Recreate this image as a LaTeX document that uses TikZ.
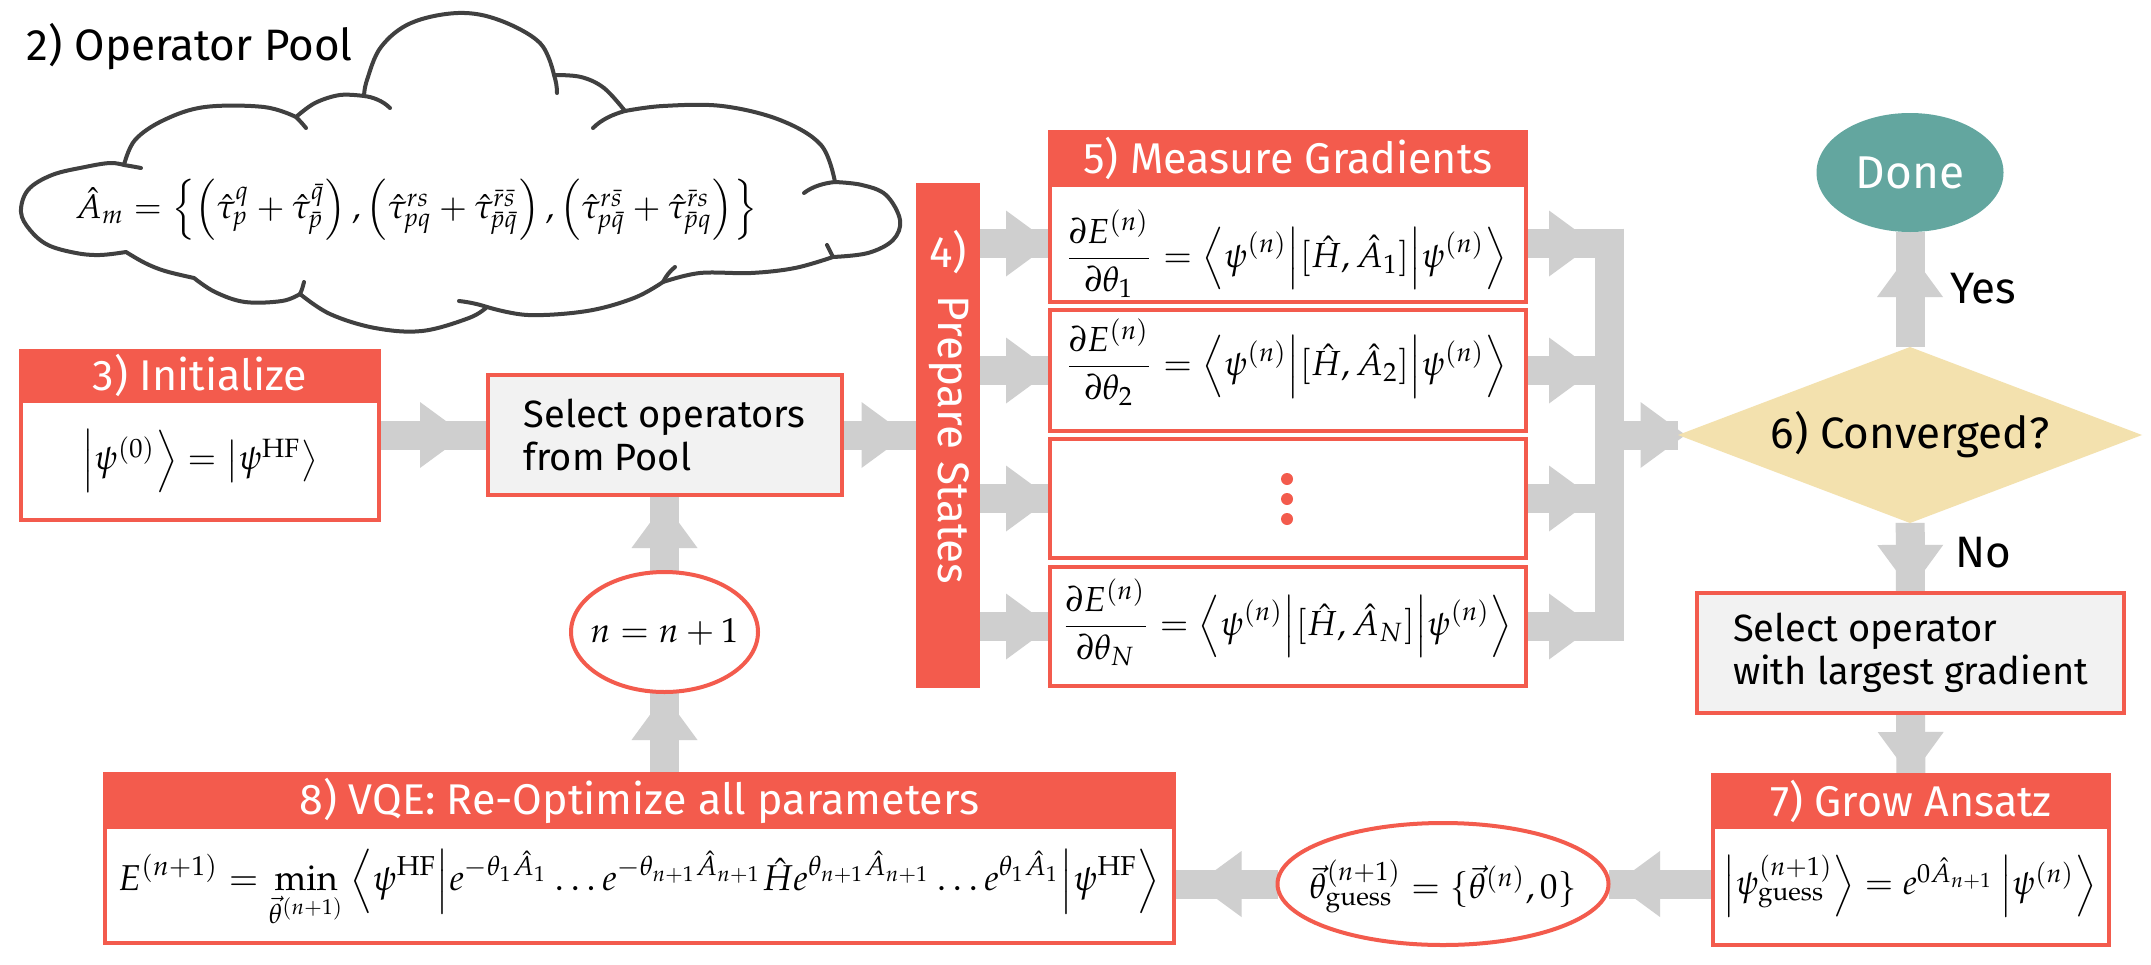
\documentclass[tikz,border=0pt]{standalone}
\usepackage{amsmath}
\usepackage{mathpazo}
\usepackage{graphicx}
\usepackage[no-math]{fontspec}
\setmainfont{Fira Sans}
\usetikzlibrary{shapes.geometric,calc,decorations.markings}
\pgfdeclarelayer{bg}
\pgfsetlayers{bg,main}
\definecolor{fred}{HTML}{F35B4D}
\definecolor{fgray}{HTML}{CFCFCF}
\definecolor{fboxc}{HTML}{F2F2F2}
\definecolor{fteal}{HTML}{63A69F}
\definecolor{fyel}{HTML}{F3E1AE}
\definecolor{fcloud}{HTML}{404040}
\newcommand\hfont{\fontsize{43}{48}\selectfont}
\newcommand\tfont{\fontsize{38}{43}\selectfont}
\tikzset{
  redbox/.style={draw=fred, line width=4pt, fill=white, inner sep=0pt},
  hdr/.style={draw=fred, line width=4pt, fill=fred, text=white, inner sep=0pt, font=\hfont},
  flow/.style={draw=fgray, line width=29pt},
  arrowat/.style={postaction={decorate}, decoration={markings, mark=at position #1 with {\fill[fgray] (0pt,33pt) -- (45pt,0pt) -- (0pt,-33pt) -- cycle;}}},
  cloudline/.style={draw=fcloud, line width=4pt, line join=round, line cap=round},
}
\begin{document}
\begin{tikzpicture}[x=1pt,y=-1pt, every node/.style={outer sep=0pt}]
\useasboundingbox (0,0) rectangle (2151,964);

% cloud
\draw[cloudline, fill=white] (126,252)
  -- plot[smooth, tension=0.6] coordinates {(126,252) (100,255) (76,253) (48,245) (30,230) (21,212) (28,190) (52,175) (85,167) (110,163) (124,165)}
  -- plot[smooth, tension=0.6] coordinates {(124,165) (135,140) (164,120) (205,107) (264,107) (296,117)}
  -- plot[smooth, tension=0.6] coordinates {(296,117) (315,103) (340,95) (364,96)}
  -- plot[smooth, tension=0.6] coordinates {(364,96) (367,80) (381,47) (411,23) (458,13) (499,20) (540,43) (554,75)}
  -- plot[smooth, tension=0.6] coordinates {(554,75) (581,77) (604,88) (625,111)}
  -- plot[smooth, tension=0.6] coordinates {(625,111) (663,106) (722,106) (780,120) (821,145) (835,182)}
  -- plot[smooth, tension=0.6] coordinates {(835,182) (862,185) (886,195) (900,220) (893,240) (868,253) (833,257)}
  -- plot[smooth, tension=0.6] coordinates {(833,257) (795,268) (751,273) (700,273) (663,282)}
  -- plot[smooth, tension=0.6] coordinates {(663,282) (634,298) (587,311) (528,315) (487,307)}
  -- plot[smooth, tension=0.6] coordinates {(487,307) (469,318) (422,331) (375,328) (330,314) (300,294)}
  -- plot[smooth, tension=0.6] coordinates {(300,294) (282,301) (245,302) (215,292) (194,278)}
  -- plot[smooth, tension=0.6] coordinates {(194,278) (165,271) (145,263) (126,252)}
  -- cycle;
% cloud hooks
\draw[cloudline] (124,165) .. controls (130,166) and (136,167) .. (141,168);
\draw[cloudline] (296,117) .. controls (299,120) and (302,123) .. (306,128);
\draw[cloudline] (364,96) .. controls (373,97) and (383,101) .. (390,108);
\draw[cloudline] (554,75) .. controls (556,81) and (557,87) .. (557,93);
\draw[cloudline] (625,111) .. controls (614,114) and (602,119) .. (593,128);
\draw[cloudline] (835,182) .. controls (825,183) and (813,186) .. (804,193);
\draw[cloudline] (833,257) .. controls (831,253) and (829,249) .. (827,245);
\draw[cloudline] (663,282) .. controls (666,276) and (670,271) .. (675,267);
\draw[cloudline] (487,307) .. controls (478,304) and (468,302) .. (459,301);
\draw[cloudline] (300,294) .. controls (302,290) and (303,286) .. (304,282);

\node[font=\fontsize{44}{48}\selectfont, anchor=base west, inner sep=0pt] (pool) at (27,60) {2) Operator Pool};
\node (pooleq) at (416,210) {\resizebox{682pt}{!}{$\hat A_m = \left\{ \left(\hat\tau_p^q + \hat\tau_{\bar p}^{\bar q}\right), \left(\hat\tau_{pq}^{rs} + \hat\tau_{\bar p\bar q}^{\bar r\bar s}\right), \left(\hat\tau_{p\bar q}^{r\bar s} + \hat\tau_{\bar pq}^{\bar rs}\right)\right\}$}};

% 3) Initialize
\node[redbox, minimum width=358pt, minimum height=169pt] (init) at (200,435) {};
\node[hdr, minimum width=358pt, minimum height=50pt, anchor=north] (inith) at (init.north) {3) Initialize};
\node (initeq) at (200,461) {\resizebox{236pt}{!}{$\left|\psi^{(0)}\right\rangle = \left|\psi^{\mathrm{HF}}\right\rangle$}};

% select operators from pool
\node[redbox, fill=fboxc, minimum width=354pt, minimum height=120pt, align=left, font=\tfont] (sel1) at (664.5,435) {Select operators\\from Pool};

% n = n+1
\node[ellipse, draw=fred, line width=4pt, fill=white, minimum width=187pt, minimum height=120pt, inner sep=0pt] (nn) at (664.5,632) {};
\node (nneq) at (664.5,632) {\resizebox{148pt}{!}{$n = n+1$}};

% 4) Prepare States
\node[fill=fred, minimum width=64pt, minimum height=505pt, inner sep=0pt] (bar) at (948,435) {};
\node[text=white, font=\fontsize{44}{48}\selectfont] (barnum) at (948,252) {4)};
\node[text=white, font=\fontsize{44}{48}\selectfont, rotate=-90] (bartext) at (949,440) {Prepare States};

% 5) Measure gradients
\node[redbox, minimum width=476pt, minimum height=117pt] (g1) at (1288,243.5) {};
\node[redbox, minimum width=476pt, minimum height=121pt] (g2) at (1288,370.5) {};
\node[redbox, minimum width=476pt, minimum height=119pt] (g3) at (1288,498.5) {};
\node[redbox, minimum width=476pt, minimum height=119pt] (g4) at (1288,626.5) {};
\node[hdr, minimum width=476pt, minimum height=53pt] (gh) at (1288,158.5) {5) Measure Gradients};
\node (g1eq) at (1286,254) {\resizebox{442pt}{!}{$\displaystyle \frac{\partial E^{(n)}}{\partial\theta_1} = \left\langle\psi^{(n)}\middle|[\hat H,\hat A_1]\middle|\psi^{(n)}\right\rangle$}};
\node (g2eq) at (1286,362) {\resizebox{442pt}{!}{$\displaystyle \frac{\partial E^{(n)}}{\partial\theta_2} = \left\langle\psi^{(n)}\middle|[\hat H,\hat A_2]\middle|\psi^{(n)}\right\rangle$}};
\node (g4eq) at (1287,622) {\resizebox{451pt}{!}{$\displaystyle \frac{\partial E^{(n)}}{\partial\theta_N} = \left\langle\psi^{(n)}\middle|[\hat H,\hat A_N]\middle|\psi^{(n)}\right\rangle$}};
\fill[fred] (1287,479) circle (6pt) (1287,499) circle (6pt) (1287,519) circle (6pt);

\coordinate (ctop) at (1609.5,228.5);
\coordinate (cbot) at (1609.5,641);
\coordinate (cmid) at (1609.5,435);

% right column
\node[ellipse, fill=fteal, minimum width=187pt, minimum height=119pt, text=white, font=\fontsize{46}{50}\selectfont, inner sep=0pt] (done) at (1910,172.5) {Done};
\node[diamond, fill=fyel, minimum width=464pt, minimum height=176pt, aspect=2.64, inner sep=0pt, font=\fontsize{44}{48}\selectfont] (dia) at (1910,435) {6) Converged?};
\node[font=\fontsize{44}{48}\selectfont, anchor=west, inner sep=0pt] (yes) at (1950,289) {Yes};
\node[font=\fontsize{44}{48}\selectfont, anchor=west, inner sep=0pt] (no) at (1955,553) {No};
\node[redbox, fill=fboxc, minimum width=427pt, minimum height=120pt, align=left, font=\fontsize{38}{43}\selectfont] (sel2) at (1910.5,653) {Select operator\\with largest gradient};

% 7) Grow Ansatz
\node[redbox, minimum width=396pt, minimum height=170pt] (grow) at (1911,860) {};
\node[hdr, minimum width=396pt, minimum height=52pt, anchor=north] (growh) at (grow.north) {7) Grow Ansatz};
\node (groweq) at (1910,886) {\resizebox{373pt}{!}{$\left|\psi^{(n+1)}_{\mathrm{guess}}\right\rangle = e^{0\hat A_{n+1}}\left|\psi^{(n)}\right\rangle$}};

% theta guess
\node[ellipse, draw=fred, line width=4pt, fill=white, minimum width=331pt, minimum height=122pt, inner sep=0pt] (theta) at (1443,884) {};
\node (thetaeq) at (1443,886) {\resizebox{267pt}{!}{$\vec\theta^{(n+1)}_{\mathrm{guess}} = \{\vec\theta^{(n)},0\}$}};

% 8) VQE
\node[redbox, minimum width=1069pt, minimum height=169pt] (vqe) at (639.5,858.5) {};
\node[hdr, minimum width=1069pt, minimum height=53pt, anchor=north] (vqeh) at (vqe.north) {8) VQE: Re-Optimize all parameters};
\node (vqeeq) at (639,888) {\resizebox{1042pt}{!}{$\displaystyle E^{(n+1)} = \min_{\vec\theta^{(n+1)}} \left\langle \psi^{\mathrm{HF}} \middle| e^{-\theta_1\hat A_1}\ldots e^{-\theta_{n+1}\hat A_{n+1}}\hat H e^{\theta_{n+1}\hat A_{n+1}}\ldots e^{\theta_1\hat A_1} \middle| \psi^{\mathrm{HF}} \right\rangle$}};

% connectors
\begin{pgfonlayer}{bg}
\fill[white] (0,0) rectangle (2151,964);
\draw[flow, arrowat=41pt] (init) -- (sel1);
\draw[flow, arrowat=20pt] (sel1) -- (bar);
\foreach \g in {g1,g2,g3,g4} {
  \draw[flow, arrowat=26pt] (bar.east |- \g) -- (\g);
  \draw[flow, arrowat=23pt] (\g) -- (\g -| ctop);
}
\draw[flow] (ctop) -- (cbot);
\draw[flow, arrowat=31pt] (cmid) -- (dia);
\draw[flow, arrowat=50pt] (dia) -- (done);
\draw[flow, arrowat=22pt] (dia) -- (sel2);
\draw[flow, arrowat=19pt] (sel2) -- (grow);
\draw[flow, arrowat=53pt] (grow.west |- theta) -- (theta);
\draw[flow, arrowat=36pt] (theta) -- (vqe.east |- theta);
\draw[flow, arrowat=34pt] (vqe.north -| nn) -- (nn);
\draw[flow, arrowat=24pt] (nn) -- (sel1);
\end{pgfonlayer}
\end{tikzpicture}
\end{document}
